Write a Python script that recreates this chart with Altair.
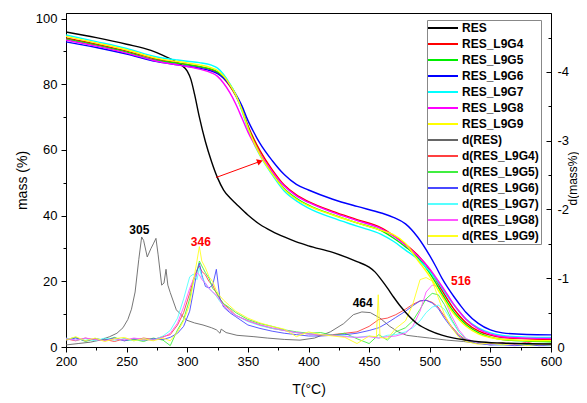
import altair as alt
import pandas as pd

# ---------------- data ----------------
SERIES = ["RES", "RES_L9G4", "RES_L9G5", "RES_L9G6", "RES_L9G7", "RES_L9G8", "RES_L9G9",
          "d(RES)", "d(RES_L9G4)", "d(RES_L9G5)", "d(RES_L9G6)", "d(RES_L9G7)", "d(RES_L9G8)", "d(RES_L9G9)"]
COLORS = ["#000000", "#ff0000", "#00ee00", "#0000ff", "#00ffff", "#ff00ff", "#ffff00",
          "#666666", "#ff4040", "#40ee40", "#4848ff", "#55ffff", "#ff55ff", "#ffff20"]

# mass curve of RES
T_RES = [200, 225, 250, 270, 280, 290, 295, 300, 303, 306, 310, 315, 320, 325, 330, 335, 340, 350, 360,
         370, 380, 390, 400, 420, 440, 450, 455, 460, 465, 470, 475, 480, 490, 500, 510, 520, 530, 540,
         560, 580, 600]
M_RES = [95.9, 94.2, 92.2, 90.3, 88.8, 87.0, 85.9, 84.0, 81.5, 77.0, 70.0, 62.5, 56.5, 51.5, 47.8, 45.5,
         43.7, 40.2, 37.3, 35.2, 33.5, 32.0, 30.8, 28.8, 26.0, 24.3, 22.8, 20.5, 18.0, 15.3, 12.8, 10.6,
         7.0, 5.0, 3.6, 2.7, 2.1, 1.6, 1.2, 1.0, 0.9]

# mass curves of the blends
T_MIX = [200, 225, 250, 275, 290, 300, 310, 320, 325, 330, 335, 340, 345, 350, 355, 360, 370, 380, 390,
         400, 420, 440, 460, 470, 480, 490, 500, 505, 510, 515, 520, 525, 530, 540, 550, 560, 580, 600]
M_L9G4 = [94.1, 92.2, 90.1, 87.6, 86.6, 86.0, 85.3, 84.4, 83.5, 81.8, 79.5, 76.5, 72.5, 67.5, 63.3, 59.8,
          54.0, 49.3, 46.3, 44.3, 41.3, 38.8, 36.3, 34.0, 31.3, 28.0, 23.5, 20.5, 17.3, 14.3, 11.5, 9.3,
          7.4, 4.9, 3.6, 2.9, 2.5, 2.3]
M_L9G5 = [93.8, 91.9, 89.8, 87.3, 86.5, 86.0, 85.4, 84.6, 83.8, 82.3, 80.0, 76.8, 72.5, 67.0, 62.5, 58.8,
          53.0, 48.2, 45.3, 43.2, 40.3, 37.8, 35.4, 33.2, 30.5, 27.3, 22.5, 19.5, 16.3, 13.3, 10.6, 8.5,
          6.8, 4.4, 3.0, 2.3, 1.8, 1.6]
M_L9G6 = [92.9, 91.2, 89.2, 86.9, 86.0, 85.5, 84.9, 84.0, 83.2, 81.8, 79.8, 77.0, 73.5, 69.0, 65.3, 62.0,
          56.8, 52.5, 49.5, 47.8, 45.0, 42.8, 40.8, 39.5, 37.5, 33.5, 27.8, 24.5, 21.0, 18.0, 15.3, 12.8,
          10.5, 7.2, 5.2, 4.3, 3.8, 3.7]
M_L9G7 = [95.0, 93.0, 90.9, 88.3, 87.5, 87.0, 86.6, 85.8, 84.9, 83.0, 80.2, 76.8, 72.0, 66.5, 62.0, 58.3,
          52.5, 47.5, 44.5, 42.3, 39.3, 36.8, 34.3, 32.2, 29.5, 26.8, 23.0, 20.7, 18.0, 15.3, 12.8, 10.5,
          8.5, 5.8, 4.3, 3.5, 3.0, 2.9]
M_L9G8 = [93.5, 91.6, 89.5, 87.0, 86.0, 85.4, 84.6, 83.5, 82.4, 80.3, 77.5, 74.0, 69.8, 65.5, 62.0, 58.8,
          53.5, 49.0, 46.0, 44.0, 41.0, 38.5, 36.0, 33.8, 31.0, 27.8, 23.8, 21.2, 18.5, 15.7, 12.9, 10.5,
          8.4, 5.5, 3.9, 3.1, 2.7, 2.6]
M_L9G9 = [94.6, 92.6, 90.5, 87.9, 87.0, 86.5, 85.9, 85.0, 84.2, 82.5, 80.0, 76.8, 72.3, 66.8, 62.3, 58.5,
          52.8, 48.0, 45.0, 43.0, 40.2, 37.8, 35.5, 34.2, 31.5, 26.5, 21.5, 18.5, 15.5, 12.6, 10.0, 8.0,
          6.3, 4.0, 2.9, 2.3, 2.0, 1.9]

# derivative of RES
T_DRES = [200, 210, 220, 228, 236, 242, 247, 251, 254, 257, 260, 262.4, 264, 267, 270, 272, 274.2, 276,
          278.9, 280.8, 282.5, 284, 286, 291, 299.5, 306, 313, 320, 324, 327, 328, 332, 341, 355, 366,
          380, 393, 405, 418, 429, 437, 444, 451, 459, 467, 474, 481, 490, 500, 514, 528, 541, 560, 580, 600]
D_RES = [-0.03, -0.05, -0.07, -0.10, -0.15, -0.20, -0.28, -0.40, -0.55, -0.80, -1.27, -1.60, -1.55, -1.31,
         -1.43, -1.50, -1.58, -1.34, -0.90, -0.93, -1.13, -0.90, -0.79, -0.54, -0.39, -0.35, -0.32, -0.28,
         -0.25, -0.20, -0.26, -0.21, -0.17, -0.15, -0.13, -0.11, -0.10, -0.13, -0.22, -0.34, -0.47, -0.51,
         -0.50, -0.42, -0.30, -0.22, -0.17, -0.15, -0.13, -0.10, -0.08, -0.05, -0.04, -0.03, -0.03]

# derivatives of the blends
T_D = [200, 208, 216, 224, 232, 240, 248, 256, 264, 272,
       280, 286, 292, 297, 302, 305, 308, 310, 312, 315,
       318, 321, 324, 327, 330, 335, 340, 350, 360, 370,
       380, 390, 400, 410, 420, 430, 440, 450, 458, 465,
       472, 480, 486, 492, 497, 502, 507, 512, 518, 524,
       530, 540, 550, 560, 570, 580, 590, 600]
D_L9G4 = [-0.12, -0.09, -0.13, -0.10, -0.11, -0.08, -0.12, -0.10, -0.13, -0.11,
          -0.15, -0.18, -0.32, -0.50, -0.78, -0.98, -1.12, -1.18, -1.10, -1.05,
          -0.95, -0.90, -0.78, -0.70, -0.62, -0.55, -0.46, -0.38, -0.32, -0.27,
          -0.24, -0.21, -0.19, -0.17, -0.18, -0.20, -0.22, -0.30, -0.40, -0.42,
          -0.47, -0.55, -0.62, -0.67, -0.68, -0.65, -0.58, -0.45, -0.30, -0.18,
          -0.10, -0.06, -0.04, -0.06, -0.03, -0.07, -0.03, -0.05]
D_L9G5 = [-0.11, -0.14, -0.08, -0.12, -0.10, -0.14, -0.09, -0.11, -0.08, -0.13,
          -0.10, -0.02, -0.25, -0.40, -0.70, -0.95, -1.10, -1.25, -1.18, -1.08,
          -1.00, -0.85, -0.80, -0.70, -0.63, -0.57, -0.50, -0.40, -0.34, -0.30,
          -0.25, -0.22, -0.20, -0.21, -0.17, -0.20, -0.12, -0.05, -0.18, -0.10,
          -0.22, -0.28, -0.38, -0.55, -0.70, -0.78, -0.76, -0.62, -0.40, -0.22,
          -0.11, -0.06, -0.03, -0.05, -0.03, -0.04, -0.02, -0.03]
D_L9G6 = [-0.10, -0.13, -0.09, -0.12, -0.10, -0.13, -0.09, -0.12, -0.10, -0.12,
          -0.11, -0.14, -0.20, -0.30, -0.52, -0.80, -1.10, -1.22, -1.05, -0.88,
          -0.86, -0.90, -1.13, -0.70, -0.58, -0.50, -0.44, -0.32, -0.27, -0.23,
          -0.20, -0.18, -0.16, -0.16, -0.17, -0.18, -0.20, -0.24, -0.28, -0.35,
          -0.43, -0.52, -0.60, -0.67, -0.68, -0.64, -0.56, -0.42, -0.28, -0.16,
          -0.09, -0.05, -0.03, -0.03, -0.02, -0.03, -0.02, -0.02]
D_L9G7 = [-0.13, -0.10, -0.12, -0.09, -0.13, -0.10, -0.12, -0.09, -0.12, -0.10,
          -0.16, -0.24, -0.42, -0.70, -1.02, -1.06, -0.98, -1.15, -1.02, -0.92,
          -0.85, -0.80, -0.74, -0.66, -0.60, -0.52, -0.46, -0.37, -0.31, -0.27,
          -0.24, -0.21, -0.19, -0.18, -0.17, -0.16, -0.14, -0.16, -0.13, -0.17,
          -0.18, -0.22, -0.28, -0.38, -0.50, -0.58, -0.61, -0.55, -0.38, -0.22,
          -0.12, -0.06, -0.04, -0.03, -0.05, -0.03, -0.04, -0.03]
D_L9G8 = [-0.12, -0.10, -0.13, -0.11, -0.09, -0.12, -0.10, -0.13, -0.11, -0.10,
          -0.14, -0.20, -0.35, -0.58, -0.85, -0.98, -1.08, -1.05, -0.98, -0.93,
          -0.85, -0.80, -0.75, -0.68, -0.60, -0.52, -0.46, -0.38, -0.32, -0.28,
          -0.24, -0.21, -0.19, -0.18, -0.17, -0.15, -0.14, -0.15, -0.13, -0.15,
          -0.16, -0.20, -0.30, -0.52, -0.80, -0.90, -0.88, -0.70, -0.45, -0.25,
          -0.12, -0.06, -0.04, -0.05, -0.03, -0.06, -0.03, -0.04]
# RES_L9G9 derivative has its own grid (narrow spike near 458 °C)
T_D9 = [200, 208, 216, 224, 232, 240, 248, 256, 264, 272,
        280, 286, 292, 297, 302, 305, 308, 310, 312, 315,
        318, 321, 324, 327, 330, 335, 340, 350, 360, 370,
        380, 390, 400, 410, 420, 430, 440, 450, 456, 457.5, 459, 465,
        472, 480, 486, 492, 497, 502, 507, 512, 518, 524,
        530, 540, 550, 560, 570, 580, 590, 600]
D_L9G9 = [-0.10, -0.15, -0.09, -0.13, -0.08, -0.12, -0.14, -0.09, -0.12, -0.09,
          -0.13, -0.09, -0.22, -0.38, -0.62, -0.95, -1.25, -1.46, -1.25, -1.15,
          -1.02, -0.95, -0.82, -0.74, -0.68, -0.60, -0.52, -0.42, -0.35, -0.30,
          -0.26, -0.15, -0.22, -0.18, -0.16, -0.14, -0.05, -0.16, -0.15, -0.76, -0.14, -0.12,
          -0.27, -0.38, -0.62, -0.98, -1.01, -0.96, -0.72, -0.48, -0.28, -0.14,
          -0.08, -0.04, -0.06, -0.03, -0.05, -0.02, -0.04, -0.03]

# peak annotations (placed on the mass axis)
ANN_TEXT = ["305", "346", "464", "516"]
ANN_T = [260.5, 311.2, 444.7, 525.8]
ANN_Y = [35.5, 32.1, 13.4, 20.1]
ANN_COLOR = ["#000000", "#ff0000", "#000000", "#ff0000"]

# arrow from RES to the blends
ARROW_T = [323.7, 360.0]
ARROW_Y = [51.6, 56.5]

# ---------------- tables ----------------
mass_rows = []
for name, ts, vs in [("RES", T_RES, M_RES), ("RES_L9G4", T_MIX, M_L9G4), ("RES_L9G5", T_MIX, M_L9G5),
                     ("RES_L9G6", T_MIX, M_L9G6), ("RES_L9G7", T_MIX, M_L9G7), ("RES_L9G8", T_MIX, M_L9G8),
                     ("RES_L9G9", T_MIX, M_L9G9)]:
    for t, v in zip(ts, vs):
        mass_rows.append({"series": name, "T": t, "mass": v})
mass_df = pd.DataFrame(mass_rows)

d_rows = []
for name, ts, vs in [("d(RES)", T_DRES, D_RES), ("d(RES_L9G4)", T_D, D_L9G4), ("d(RES_L9G5)", T_D, D_L9G5),
                     ("d(RES_L9G6)", T_D, D_L9G6), ("d(RES_L9G7)", T_D, D_L9G7), ("d(RES_L9G8)", T_D, D_L9G8),
                     ("d(RES_L9G9)", T_D9, D_L9G9)]:
    for t, v in zip(ts, vs):
        d_rows.append({"series": name, "T": t, "d": v})
d_df = pd.DataFrame(d_rows)

ann_df = pd.DataFrame({"label": ANN_TEXT, "T": ANN_T, "mass": ANN_Y, "col": ANN_COLOR})
arrow_df = pd.DataFrame({"T": ARROW_T, "mass": ARROW_Y})
head_df = arrow_df.iloc[[1]]

FONT = "Liberation Sans"

x_enc = alt.X("T:Q", scale=alt.Scale(domain=[200, 600], nice=False, zero=False),
              axis=alt.Axis(title="T(°C)", values=list(range(200, 601, 25)),
                            labelExpr="datum.value % 50 == 0 ? '' + datum.value : ''",
                            tickSize={"condition": {"test": "datum.value % 50 == 0", "value": 5}, "value": 3},
                            labelPadding=3, labelFlush=False, labelOverlap=False,
                            titlePadding=14))
y_mass = alt.Y("mass:Q", scale=alt.Scale(domain=[0, 101.7], nice=False, zero=False),
               axis=alt.Axis(title="mass (%)", orient="left", values=list(range(0, 101, 10)),
                             labelExpr="datum.value % 20 == 0 ? '' + datum.value : ''",
                             tickSize={"condition": {"test": "datum.value % 20 == 0", "value": 5}, "value": 3},
                             labelPadding=4, labelFlush=False, labelOverlap=False, titlePadding=6))
y_d = alt.Y("d:Q", scale=alt.Scale(domain=[-4.858, 0], nice=False, zero=False, reverse=True),
            axis=alt.Axis(title="d(mass%)", orient="right", titleAngle=270,
                          titleX=21, titleY=165, titleAlign="center", titleBaseline="middle",
                          titleFontSize=12,
                          values=[-4.5, -4, -3.5, -3, -2.5, -2, -1.5, -1, -0.5, 0],
                          labelExpr="datum.value % 1 == 0 ? '' + datum.value : ''",
                          tickSize={"condition": {"test": "datum.value % 1 == 0", "value": -5}, "value": -3},
                          labelPadding=11, labelFlush=False, labelOverlap=False))

color_enc = alt.Color("series:N", scale=alt.Scale(domain=SERIES, range=COLORS),
                      legend=alt.Legend(title=None, orient="none", legendX=361, legendY=7,
                                        fillColor="white", strokeColor="#888888", padding=2,
                                        symbolType="M-3,0H3", symbolSize=100, symbolStrokeWidth=2,
                                        symbolOffset=8, labelFont=FONT, labelFontSize=12,
                                        labelFontWeight="bold", labelColor="black", labelOffset=13,
                                        rowPadding=4, labelLimit=200, cornerRadius=0))

mass_lines = alt.Chart(mass_df).mark_line(strokeWidth=1.4, interpolate="monotone", clip=True).encode(
    x=x_enc, y=y_mass, color=color_enc)
texts = alt.Chart(ann_df).mark_text(font=FONT, fontSize=12, fontWeight="bold").encode(
    x=x_enc, y=y_mass, text="label:N", fill=alt.Fill("col:N", scale=None, legend=None))
arrow = alt.Chart(arrow_df).mark_line(color="red", strokeWidth=1).encode(x=x_enc, y=y_mass)
head = alt.Chart(head_df).mark_point(shape="triangle-right", filled=True, color="red", size=45,
                                     angle=339, opacity=1).encode(x=x_enc, y=y_mass)
mass_layer = alt.layer(mass_lines, arrow, head, texts)

d_lines = alt.Chart(d_df).mark_line(strokeWidth=0.9, clip=True).encode(x=x_enc, y=y_d, color=color_enc)

chart = alt.layer(d_lines, mass_layer).resolve_scale(y="independent").properties(
    width=485, height=334,
    autosize=alt.AutoSizeParams(type="none"),
    padding={"left": 58, "top": 5, "right": 28, "bottom": 53},
).configure_view(stroke="black", strokeWidth=1).configure_axis(
    labelFont=FONT, titleFont=FONT, labelFontSize=13, titleFontSize=14, titleFontWeight="normal",
    domainColor="black", tickColor="black", labelColor="black", titleColor="black", grid=False)

chart.save("out.html", embed_options={"renderer": "svg", "actions": False})
